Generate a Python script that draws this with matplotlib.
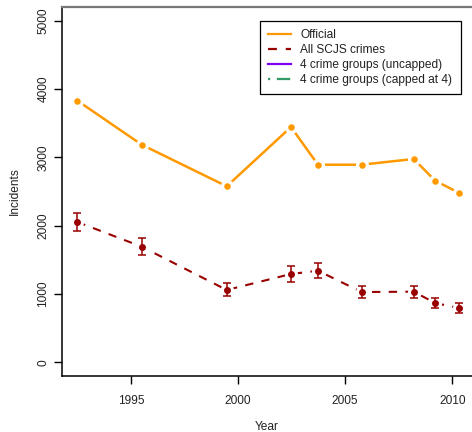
import matplotlib
matplotlib.use('Agg')
import matplotlib.pyplot as plt
from matplotlib.lines import Line2D
import numpy as np

plt.rcParams['font.family'] = ['Liberation Sans', 'DejaVu Sans']

# Survey years (mid-point of each sweep)
years = [1992.5, 1995.5, 1999.47, 2002.47, 2003.73, 2005.77, 2008.2, 2009.2, 2010.3]
# Police recorded incidents
official = [3830, 3186, 2577, 3445, 2893, 2893, 2977, 2659, 2483]
# Survey estimates for all SCJS crimes with error margins
scjs = [2054, 1693, 1059, 1293, 1341, 1029, 1034, 868, 795]
scjs_err = [127, 120, 95, 110, 110, 88, 90, 78, 80]

yticks = [0, 1000, 2000, 3000, 4000, 5000]
xticks = [1995, 2000, 2005, 2010]

COLORS = {
    'official': '#FF9900',
    'scjs': '#990000',
    'uncapped': '#8000F0',
    'capped': '#339966',
}

fig = plt.figure(figsize=(4.72, 4.32), dpi=100)
ax = fig.add_axes([62 / 472, 1 - 375.7 / 432, 1 - 62 / 472, (375.7 - 7) / 432])

# Official series: line with gaps around the points (R type="b")
ax.plot(years, official, color=COLORS['official'], lw=1.8, zorder=2)
ax.plot(years, official, 'o', color='white', ms=9.5, mew=0, zorder=3)
ax.plot(years, official, 'o', color=COLORS['official'], ms=4.7, mew=0, zorder=5)

# SCJS series: dashed line, gaps, error bars
ax.plot(years, scjs, color=COLORS['scjs'], lw=1.5, linestyle=(0, (4, 4)), zorder=2)
ax.plot(years, scjs, 'o', color='white', ms=9.5, mew=0, zorder=3)
ax.errorbar(years, scjs, yerr=scjs_err, fmt='none', ecolor=COLORS['scjs'],
            elinewidth=1.1, capsize=2.8, capthick=1.1, zorder=4)
ax.plot(years, scjs, 'o', color=COLORS['scjs'], ms=5, mew=0, zorder=5)

ax.set_xlim(1991.78, 2010.92)
ax.set_ylim(-196, 5202)
ax.set_xticks(xticks)
ax.set_yticks(yticks)
ax.set_xticklabels([str(t) for t in xticks], fontsize=8.6)
ax.set_yticklabels([str(t) for t in yticks], fontsize=8.6, rotation=90, va='center')
ax.tick_params(axis='both', direction='out', length=6, width=1.0, color='black',
               labelcolor='#222222')
ax.tick_params(axis='x', pad=8)
ax.tick_params(axis='y', pad=3)

ax.spines['right'].set_visible(False)
ax.spines['top'].set_color('#777777')
ax.spines['top'].set_linewidth(1.6)
ax.spines['left'].set_linewidth(1.1)
ax.spines['bottom'].set_linewidth(1.1)

ax.set_xlabel('Year', fontsize=8.6, color='#222222', labelpad=10)
ax.set_ylabel('Incidents', fontsize=8.6, color='#222222', labelpad=12)

handles = [
    Line2D([], [], color=COLORS['official'], lw=1.6),
    Line2D([], [], color=COLORS['scjs'], lw=1.6, linestyle=(0, (4, 4))),
    Line2D([], [], color=COLORS['uncapped'], lw=1.6),
    Line2D([], [], color=COLORS['capped'], lw=1.6, linestyle=(0, (1, 3, 6, 3))),
]
labels = ['Official', 'All SCJS crimes', '4 crime groups (uncapped)',
          '4 crime groups (capped at 4)']
leg = ax.legend(handles, labels, loc='upper right',
                bbox_to_anchor=(460.7 / 472, 1 - 20.7 / 432),
                bbox_transform=fig.transFigure, borderaxespad=0,
                fontsize=8.6, frameon=True, fancybox=False, framealpha=1,
                handlelength=1.9, handletextpad=0.8, labelspacing=0.25,
                borderpad=0.7)
leg.get_frame().set_edgecolor('black')
leg.get_frame().set_linewidth(0.9)
for t in leg.get_texts():
    t.set_color('#222222')

fig.savefig('out.png', dpi=100)
